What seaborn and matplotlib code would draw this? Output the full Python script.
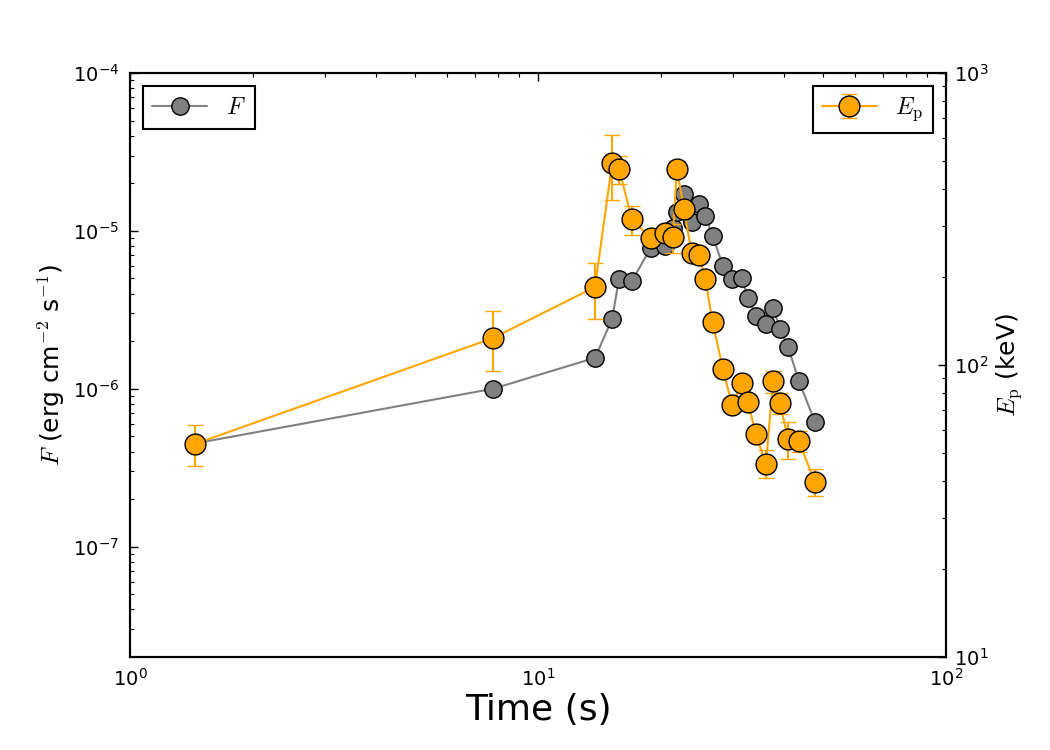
import numpy as np
import pandas as pd
import seaborn as sns
import matplotlib.pyplot as plt
from matplotlib.ticker import LogLocator

# time bins (s), shared by both series
time = [1.44, 7.76, 13.8, 15.2, 15.8, 17.0, 18.9, 20.5, 21.4, 21.9, 22.8, 23.8, 24.8,
        25.7, 26.8, 28.4, 29.9, 31.6, 32.7, 34.2, 36.2, 37.7, 39.2, 41.0, 43.6, 47.7]

# energy flux (erg cm^-2 s^-1)
flux = [4.5e-7, 1.0e-6, 1.57e-6, 2.77e-6, 4.97e-6, 4.83e-6, 7.8e-6, 8.0e-6, 1.04e-5,
        1.32e-5, 1.71e-5, 1.14e-5, 1.48e-5, 1.24e-5, 9.3e-6, 6.0e-6, 4.97e-6, 5.0e-6,
        3.77e-6, 2.9e-6, 2.58e-6, 3.26e-6, 2.4e-6, 1.85e-6, 1.12e-6, 6.2e-7]

# peak energy (keV) with lower / upper bounds
ep = [53.6, 123.7, 185, 492, 469, 316, 272, 283, 274, 469, 342, 242, 238,
      197, 140, 96.8, 73.0, 86.7, 74.7, 58.0, 45.8, 88.1, 74.1, 55.8, 54.9, 39.7]
ep_lo = [45.1, 95.3, 144, 367, 417, 279, 258, 268, 242, 440, 322, 228, 224,
         186, 132, 91, 69, 82, 70.5, 54.5, 41.0, 80.2, 67.9, 47.7, 50.4, 35.6]
ep_hi = [62.4, 153, 224, 613, 520, 351, 287, 298, 304, 500, 362, 256, 252,
         208, 148, 102, 77, 91.5, 79, 61.5, 51.2, 95.3, 80.2, 63.8, 59.4, 44.1]

df = pd.DataFrame({'time': time, 'flux': flux, 'ep': ep, 'ep_lo': ep_lo, 'ep_hi': ep_hi})

sns.set_style('white')
plt.rcParams['font.family'] = ['DejaVu Sans']
plt.rcParams['mathtext.fontset'] = 'dejavusans'
plt.rcParams['axes.linewidth'] = 1.5
for k in ('text.color', 'axes.labelcolor', 'xtick.color', 'ytick.color', 'axes.edgecolor'):
    plt.rcParams[k] = 'black'

fig = plt.figure(figsize=(10.5, 7.5), dpi=100)
ax = fig.add_axes([0.1238, 0.124, 0.7771, 0.7787])

sns.lineplot(data=df, x='time', y='flux', ax=ax, sort=False, estimator=None,
             color='gray', lw=1.5, marker='o', markersize=12.5,
             markerfacecolor='gray', markeredgecolor='k', markeredgewidth=1,
             label='$F$')
ax.set_xscale('log')
ax.set_yscale('log')
ax.set_xlim(1, 100)
ax.set_ylim(2e-8, 1e-4)

ax2 = ax.twinx()
yerr = [df['ep'] - df['ep_lo'], df['ep_hi'] - df['ep']]
ax2.errorbar(df['time'], df['ep'], yerr=yerr, fmt='-o', color='orange', lw=1.5,
             ms=15, mfc='orange', mec='k', mew=1, ecolor='orange',
             elinewidth=1.5, capsize=6, capthick=1.5, label=r'$E_{\rm p}$')
ax2.set_yscale('log')
ax2.set_ylim(10, 1000)

for a in (ax, ax2):
    a.yaxis.set_major_locator(LogLocator(base=10))
    a.tick_params(which='both', direction='in', labelsize=14)
    a.tick_params(which='major', length=6, width=1)
    a.tick_params(which='minor', length=3, width=0.8)
ax.tick_params(which='both', top=True, right=False, pad=8)
ax2.tick_params(which='both', right=True, left=False, pad=6)

ax.set_xlabel('Time (s)', fontsize=26, labelpad=2)
ax.set_ylabel(r'$F$ (erg cm$^{-2}$ s$^{-1}$)', fontsize=18, math_fontfamily='cm')
ax2.set_ylabel(r'$E_{\rm p}$ (keV)', fontsize=18, math_fontfamily='cm')

for a, loc in ((ax, 'upper left'), (ax2, 'upper right')):
    leg = a.legend(loc=loc, numpoints=1, fontsize=17, fancybox=False,
                   framealpha=1, edgecolor='black', borderaxespad=0.55,
                   handlelength=2.3)
    leg.get_frame().set_linewidth(1.5)
    for t in leg.get_texts():
        t.set_math_fontfamily('cm')

fig.savefig('out.png', dpi=100)
